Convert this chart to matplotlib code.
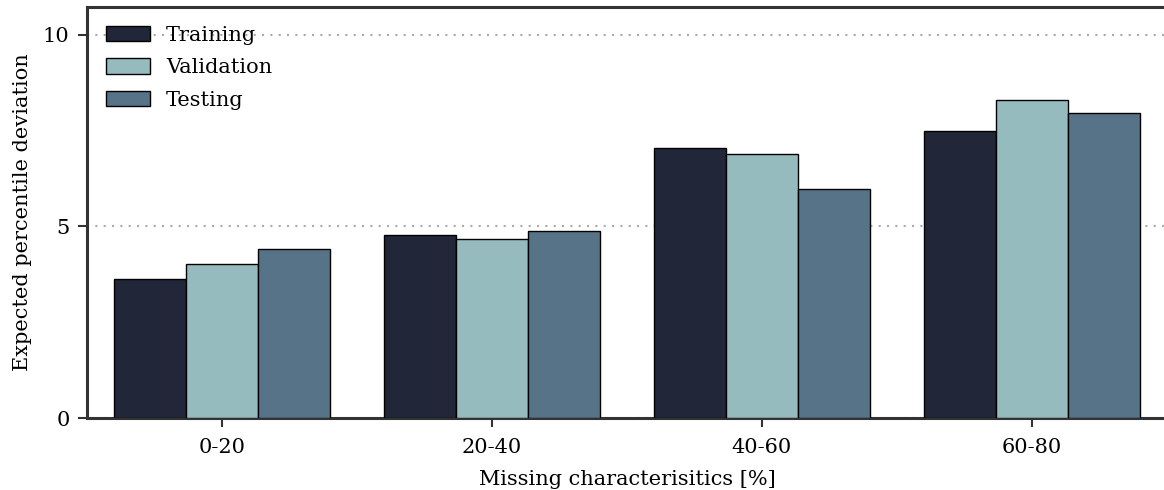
import numpy as np
import matplotlib.pyplot as plt

# data
groups = ['0-20', '20-40', '40-60', '60-80']
training = [3.63, 4.79, 7.06, 7.49]
validation = [4.03, 4.68, 6.88, 8.31]
testing = [4.40, 4.87, 5.98, 7.97]

series = ['Training', 'Validation', 'Testing']
colors = ['#222639', '#96bbbe', '#577387']

plt.rcParams['font.family'] = 'DejaVu Serif'
plt.rcParams['font.size'] = 15

fig = plt.figure(figsize=(11.64, 4.9), dpi=100)
ax = fig.add_axes([87 / 1164, 72 / 490, 1080 / 1164, 411 / 490])

x = np.arange(len(groups))
w = 0.8 / 3
for i, (name, vals) in enumerate(zip(series, [training, validation, testing])):
    ax.bar(x + (i - 1) * w, vals, width=w, color=colors[i], edgecolor='black',
           linewidth=1, label=name, zorder=3)

ax.set_xlim(-0.5, 3.5)
ax.set_ylim(0, 10.73)
ax.set_yticks([0, 5, 10])
ax.set_xticks(x)
ax.set_xticklabels(groups)
ax.yaxis.grid(True, linestyle=(0, (1, 3)), color='#aaaaaa', linewidth=1.5, zorder=0)
ax.set_axisbelow(True)

for s in ['left', 'bottom', 'top']:
    ax.spines[s].set_linewidth(2.2)
    ax.spines[s].set_color('#333333')
ax.spines['right'].set_visible(False)
ax.tick_params(length=6.5, width=1.5, color='#333333', pad=6)
ax.tick_params(axis='x', pad=8)

ax.set_xlabel('Missing characterisitics [%]', labelpad=9)
ax.set_ylabel('Expected percentile deviation', labelpad=8)
ax.legend(loc='upper left', frameon=False, handlelength=2.1, handleheight=0.75,
          borderaxespad=0.5, labelspacing=0.65, handletextpad=0.8)

fig.savefig('out.png', dpi=100)
